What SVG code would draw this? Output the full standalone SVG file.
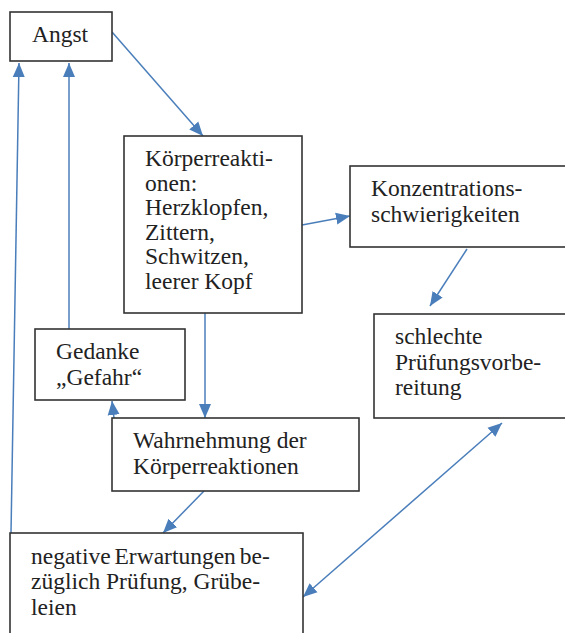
<svg xmlns="http://www.w3.org/2000/svg" width="565" height="633" viewBox="0 0 565 633">
<style>
.box{fill:#fff;stroke:#333;stroke-width:1.6}
.t{font-family:"Liberation Serif",serif;font-size:23.5px;fill:#222}
.c{fill:none;stroke:#4a7ebb;stroke-width:1.5}
</style>
<defs>
<marker id="ah" markerUnits="userSpaceOnUse" markerWidth="14" markerHeight="14" viewBox="0 0 14 12" refX="14" refY="6" orient="auto-start-reverse">
<path d="M0,0 L14,6 L0,12 z" fill="#4a7ebb"/>
</marker>
</defs>
<rect width="565" height="633" fill="#fff"/>
<g id="connectors">
<line class="c" x1="11" y1="533" x2="19" y2="63" marker-end="url(#ah)"/>
<line class="c" x1="69" y1="329" x2="69" y2="63" marker-end="url(#ah)"/>
<line class="c" x1="112" y1="32" x2="203" y2="136" marker-end="url(#ah)"/>
<line class="c" x1="302" y1="225" x2="350" y2="216" marker-end="url(#ah)"/>
<line class="c" x1="467" y1="249" x2="430" y2="306" marker-end="url(#ah)"/>
<line class="c" x1="205" y1="313" x2="205" y2="418" marker-end="url(#ah)"/>
<line class="c" x1="114" y1="418" x2="112" y2="401" marker-end="url(#ah)"/>
<line class="c" x1="204" y1="491" x2="163" y2="533" marker-end="url(#ah)"/>
<line class="c" x1="502" y1="423" x2="303" y2="597" marker-start="url(#ah)" marker-end="url(#ah)"/>
</g>
<g id="angst">
<rect class="box" x="10" y="12" width="102" height="49"/>
<text class="t" x="32" y="42" font-family="Liberation Serif">Angst</text>
</g>
<g id="koerperreaktionen">
<rect class="box" x="124" y="136" width="178" height="177"/>
<text class="t" x="145" y="166">Körperreakti-</text>
<text class="t" x="145" y="190.5">onen:</text>
<text class="t" x="145" y="215">Herzklopfen,</text>
<text class="t" x="145" y="239.5">Zittern,</text>
<text class="t" x="145" y="264">Schwitzen,</text>
<text class="t" x="145" y="288.5">leerer Kopf</text>
</g>
<g id="konzentration">
<rect class="box" x="350" y="166" width="220" height="81"/>
<text class="t" x="371" y="196">Konzentrations-</text>
<text class="t" x="371" y="222">schwierigkeiten</text>
</g>
<g id="pruefungsvorbereitung">
<rect class="box" x="374" y="314" width="196" height="104"/>
<text class="t" x="395" y="344">schlechte</text>
<text class="t" x="395" y="370">Prüfungsvorbe-</text>
<text class="t" x="395" y="395">reitung</text>
</g>
<g id="gedanke">
<rect class="box" x="35" y="329" width="150" height="71"/>
<text class="t" x="56" y="359">Gedanke</text>
<text class="t" x="56" y="385">„Gefahr“</text>
</g>
<g id="wahrnehmung">
<rect class="box" x="112" y="418" width="247" height="73"/>
<text class="t" x="133" y="448">Wahrnehmung der</text>
<text class="t" x="133" y="474">Körperreaktionen</text>
</g>
<g id="erwartungen">
<rect class="box" x="10" y="533" width="293" height="110"/>
<text class="t" x="31" y="563.5" word-spacing="-2">negative Erwartungen be-</text>
<text class="t" x="31" y="589">züglich Prüfung, Grübe-</text>
<text class="t" x="31" y="614.5">leien</text>
</g>
</svg>
